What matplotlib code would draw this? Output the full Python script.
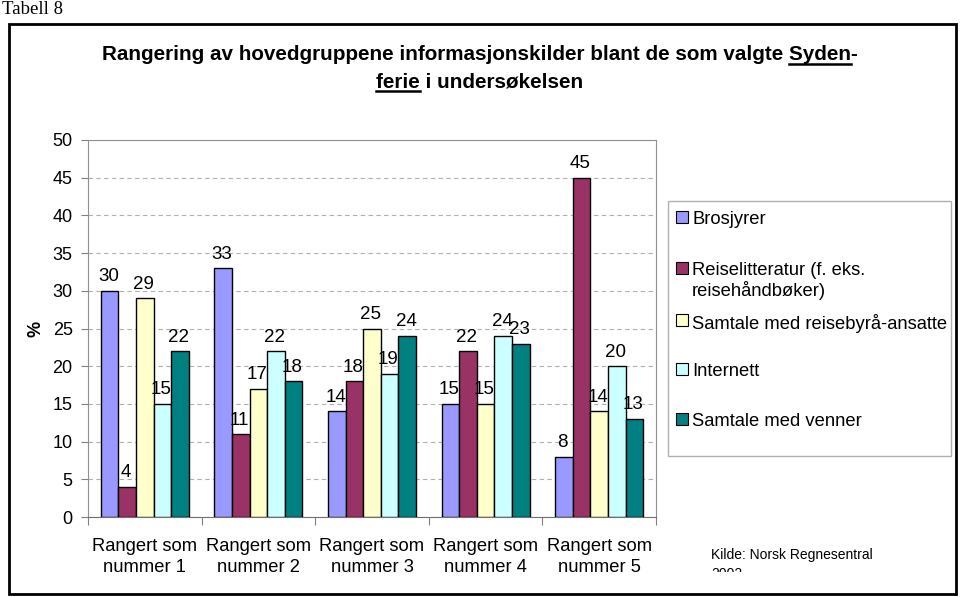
import matplotlib
matplotlib.use("Agg")
import matplotlib.pyplot as plt
from matplotlib.patches import Rectangle
from matplotlib.transforms import Bbox, TransformedBbox
import numpy as np

plt.rcParams["font.family"] = ["Liberation Sans", "DejaVu Sans"]

categories = ["Rangert som\nnummer 1", "Rangert som\nnummer 2", "Rangert som\nnummer 3",
              "Rangert som\nnummer 4", "Rangert som\nnummer 5"]
series_names = ["Brosjyrer", "Reiselitteratur (f. eks.\nreisehåndbøker)",
                "Samtale med reisebyrå-ansatte", "Internett", "Samtale med venner"]
brosjyrer = [30, 33, 14, 15, 8]
reiselitteratur = [4, 11, 18, 22, 45]
reisebyraa = [29, 17, 25, 15, 14]
internett = [15, 22, 19, 24, 20]
venner = [22, 18, 24, 23, 13]
series = [brosjyrer, reiselitteratur, reisebyraa, internett, venner]
colors = ["#9999FF", "#993366", "#FFFFCC", "#CCFFFF", "#008080"]

W, H = 960, 597
fig = plt.figure(figsize=(9.6, 5.97), dpi=100)


def fx(px):
    return px / W


def fy(py):
    return 1 - py / H


# outer frame and page label
fig.patches.append(Rectangle((fx(9), fy(594)), fx(947), 570 / H, transform=fig.transFigure,
                             fill=False, edgecolor="black", linewidth=2))
fig.text(fx(2), fy(9), "Tabell 8", family=["Liberation Serif"], fontsize=13.5, va="center", ha="left")

# title with underlined words
title_font = dict(family=["Liberation Sans"], fontsize=14.9, fontweight="bold")
fig.canvas.draw()
renderer = fig.canvas.get_renderer()


def underlined_line(y, before, word, after):
    full = fig.text(0.5, y, before + word + after, ha="center", va="center", **title_font)
    bb = full.get_window_extent(renderer)
    pre = fig.text(0, 0, before, **title_font)
    wd = fig.text(0, 0, word, **title_font)
    x0 = bb.x0 + (pre.get_window_extent(renderer).width if before else 0)
    x1 = x0 + wd.get_window_extent(renderer).width
    pre.remove()
    wd.remove()
    uy = bb.y0 + 1
    fig.add_artist(plt.Line2D([x0 / fig.bbox.width, x1 / fig.bbox.width],
                              [uy / fig.bbox.height] * 2, transform=fig.transFigure,
                              color="black", linewidth=1.8))


underlined_line(fy(55), "Rangering av hovedgruppene informasjonskilder blant de som valgte ", "Syden", "-")
underlined_line(fy(82), "", "ferie", " i undersøkelsen")

ax = fig.add_axes([fx(88), fy(517), fx(656 - 88), (517 - 140) / H])
x = np.arange(len(categories))
bw = 0.155
for k, (vals, col) in enumerate(zip(series, colors)):
    bars = ax.bar(x + (k - 2) * bw, vals, bw, color=col, edgecolor="black", linewidth=1, zorder=3)
    for rect, v in zip(bars, vals):
        ax.annotate(str(v), (rect.get_x() + rect.get_width() / 2 - 0.01, rect.get_height()),
                    xytext=(0, 4), textcoords="offset points", ha="center", va="bottom",
                    fontsize=13.5, zorder=4)

ax.set_xlim(-0.5, len(categories) - 0.5)
ax.set_ylim(0, 50)
ax.set_yticks(range(0, 51, 5))
ax.set_xticks(np.arange(len(categories) + 1) - 0.5)
ax.set_xticklabels([])
ax.set_xticks(x, minor=True)
ax.set_xticklabels(categories, minor=True, fontsize=13.2, linespacing=1.35)
ax.tick_params(axis="x", which="minor", length=0, pad=15)
ax.tick_params(axis="x", which="major", length=6, color="#808080")
ax.tick_params(axis="y", length=5, color="#808080", labelsize=13, pad=6)
ax.grid(axis="y", color="#B0B0B0", linestyle=(0, (4, 3)), linewidth=0.8, zorder=0)
for side in ["top", "right", "left"]:
    ax.spines[side].set_color("#909090")
ax.spines["bottom"].set_color("#707070")
ax.set_ylabel("%", fontsize=13, fontweight="bold", labelpad=6)

# legend
fig.patches.append(Rectangle((fx(668), fy(456)), fx(951 - 668), (456 - 201) / H,
                             transform=fig.transFigure, fill=False, edgecolor="#B0B0B0", linewidth=1))
legend_rows = [217, 268, 320, 369, 419]
for name, col, py in zip(series_names, colors, legend_rows):
    fig.patches.append(Rectangle((fx(676), fy(py + 6)), fx(12), 12 / H, transform=fig.transFigure,
                                 facecolor=col, edgecolor="black", linewidth=0.8))
    fig.text(fx(692), fy(py - 6), name, fontsize=13.2, ha="left", va="top", linespacing=1.1)

# source note, second line cut off
fig.text(fx(711), fy(559), "Kilde: Norsk Regnesentral", fontsize=10, ha="left", va="baseline")
yr = fig.text(fx(711), fy(578), "2002", fontsize=10, ha="left", va="baseline")
yr.set_clip_box(TransformedBbox(Bbox([[fx(700), fy(572)], [fx(800), fy(560)]]), fig.transFigure))
yr.set_clip_on(True)

fig.savefig("out.png", dpi=100)
